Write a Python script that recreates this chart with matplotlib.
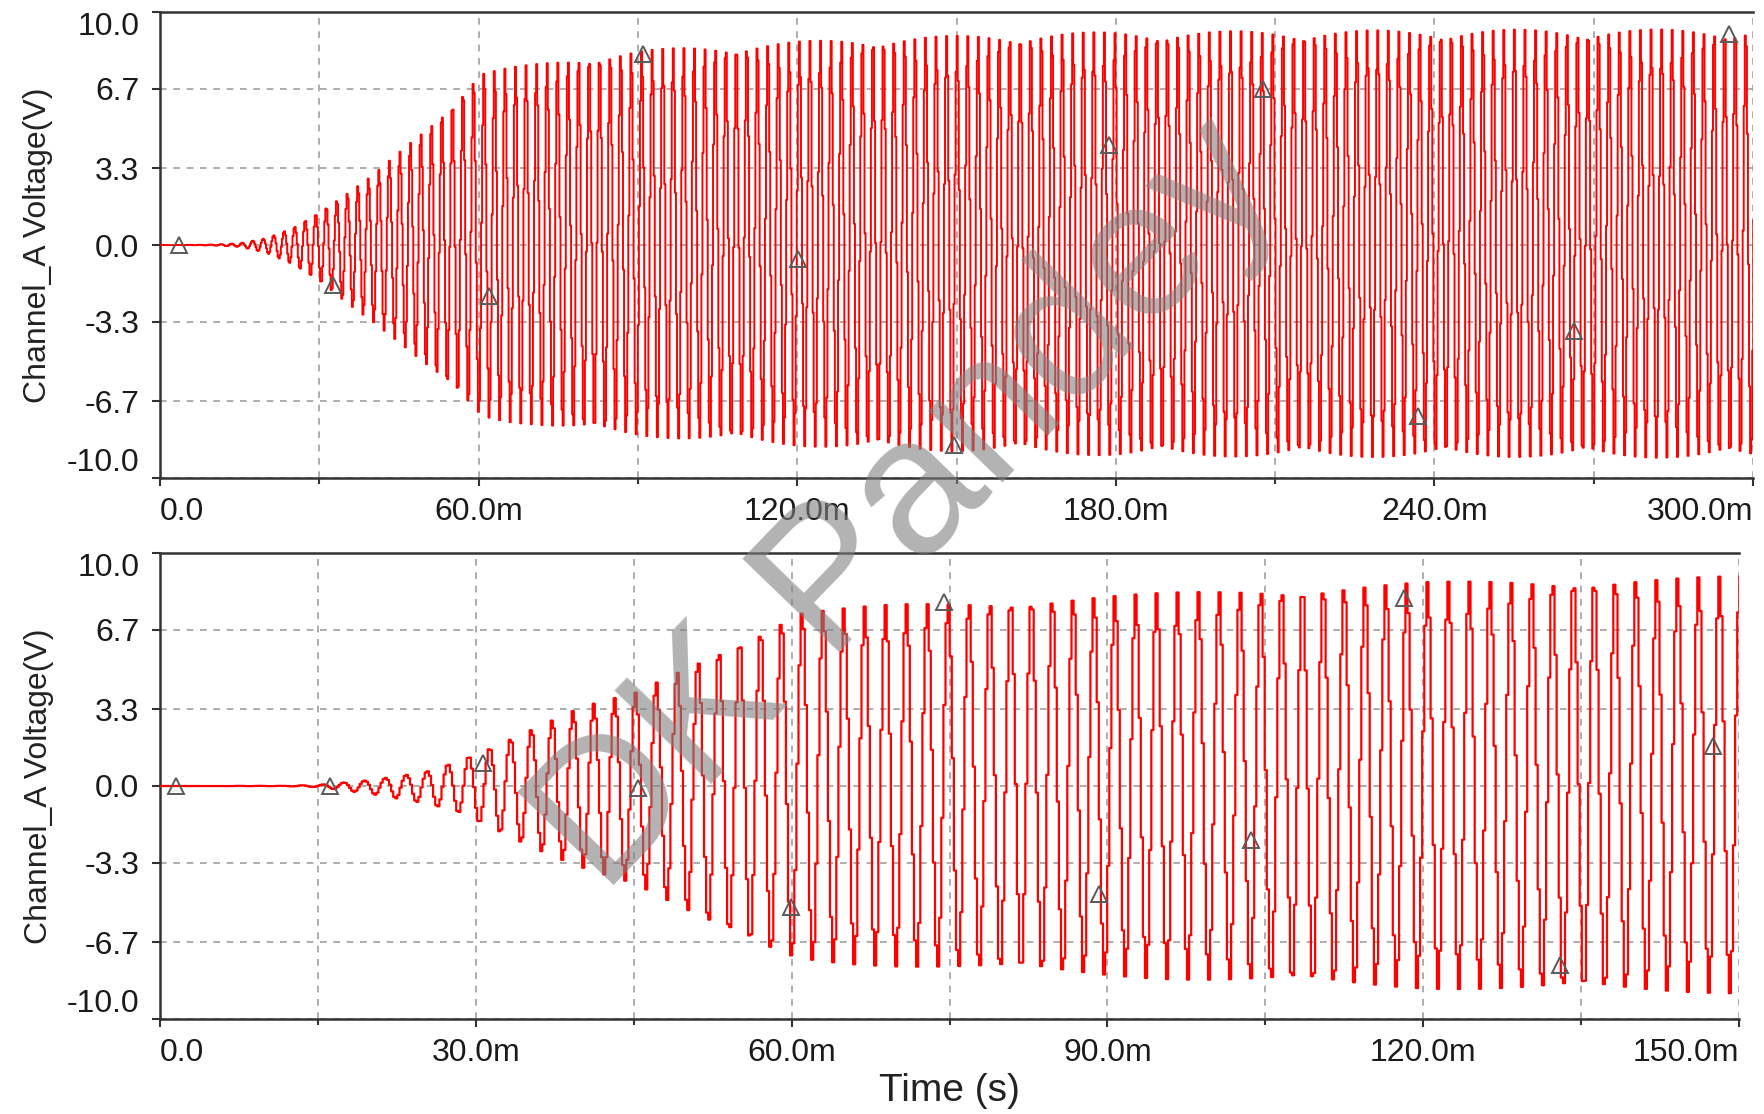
import numpy as np
import matplotlib
matplotlib.use("Agg")
from matplotlib import pyplot as plt

plt.rcParams['font.family'] = ['Liberation Sans', 'DejaVu Sans']

# envelope of the trace (time in ms, volts)
top_env_t = [0, 10, 15, 20, 25, 30, 35, 40, 45, 50, 55, 58, 60.5, 65, 70, 80, 90, 100, 130, 160, 180, 220, 260, 300]
top_env_pos = [0, 0.02, 0.08, 0.3, 0.75, 1.45, 2.2, 3.0, 4.0, 5.0, 6.1, 6.9, 7.45, 7.6, 7.75, 8.1, 8.35, 8.5, 8.85,
               9.05, 9.15, 9.2, 9.25, 9.25]
top_env_neg = [0, 0.02, 0.08, 0.35, 0.85, 1.6, 2.5, 3.3, 4.2, 5.2, 6.2, 6.9, 7.45, 7.6, 7.7, 8.0, 8.2, 8.35, 8.75,
               8.9, 9.05, 9.1, 9.1, 9.15]

bot_env_t = [0, 12, 15, 20, 25, 28, 31, 34, 37, 40, 45, 52, 58.5, 60.5, 65, 70, 76, 96, 120, 150]
bot_env_pos = [0, 0.01, 0.05, 0.26, 0.6, 1.05, 1.6, 2.2, 2.8, 3.4, 4.0, 5.6, 7.0, 7.5, 7.65, 7.8, 7.9, 8.3, 8.75, 9.0]
bot_env_neg = [0, 0.01, 0.05, 0.35, 0.75, 1.1, 1.75, 2.4, 3.0, 3.5, 4.2, 5.9, 7.25, 7.5, 7.65, 7.75, 7.85, 8.3, 8.7,
               8.9]

osc_freq = 505.0      # Hz, about 2 ms per cycle
osc_peak_ms = 31.2    # one of the crests
top_step_ms = 0.1995  # simulator output step (stair look)
bot_step_ms = 0.1995

# cursor triangles
top_marker_t = [3.5, 32.5, 62.0, 90.9, 120.2, 149.5, 178.7, 207.8, 237.0, 266.2, 295.5]
top_marker_v = [0.0, -1.7, -2.2, 8.2, -0.6, -8.6, 4.3, 6.7, -7.35, -3.7, 9.05]
bot_marker_t = [1.5, 16.1, 30.7, 45.4, 59.9, 74.5, 89.2, 103.6, 118.2, 133.0, 147.5]
bot_marker_v = [0.0, 0.0, 0.97, -0.1, -5.2, 7.9, -4.65, -2.3, 8.05, -7.7, 1.7]

top_xticks = [0, 60, 120, 180, 240, 300]
top_xminor = [30, 90, 150, 210, 270]
bot_xticks = [0, 30, 60, 90, 120, 150]
bot_xminor = [15, 45, 75, 105, 135]
y_ticks = [-10.0, -6.7, -3.3, 0.0, 3.3, 6.7, 10.0]


def trace(end_ms, step, env_t, env_pos, env_neg):
    t = np.arange(0, end_ms + step, step)
    s = np.cos(2 * np.pi * osc_freq * (t - osc_peak_ms) / 1000.0)
    amp = np.where(s >= 0, np.interp(t, env_t, env_pos), np.interp(t, env_t, env_neg))
    return t, amp * s


def ms_label(v):
    return "0.0" if v == 0 else "%.1fm" % v


fig = plt.figure(figsize=(17.65, 11.14), dpi=100)
ax1 = fig.add_axes([0.0907, 0.5709, 0.9025, 0.4183])
ax2 = fig.add_axes([0.0907, 0.0853, 0.8946, 0.4183])

panels = [
    (ax1, 300, top_step_ms, 1.4, top_env_t, top_env_pos, top_env_neg, top_marker_t, top_marker_v,
     top_xticks, top_xminor),
    (ax2, 150, bot_step_ms, 1.6, bot_env_t, bot_env_pos, bot_env_neg, bot_marker_t, bot_marker_v,
     bot_xticks, bot_xminor),
]

for ax, end, step, lw, et, ep, en, mt, mv, xt, xm in panels:
    t, v = trace(end, step, et, ep, en)
    ax.plot(t, v, color='#ff0000', lw=lw, drawstyle='steps-post', zorder=3)
    ax.plot(mt, mv, ls='none', marker='^', ms=11, mfc='none', mec='#5a5a5a', mew=1.4, zorder=4)

    ax.set_xlim(0, end)
    ax.set_ylim(-10, 10)
    ax.set_xticks(xt)
    ax.set_xticks(xm, minor=True)
    ax.set_xticklabels([ms_label(x) for x in xt])
    ax.set_yticks(y_ticks)
    ax.set_yticklabels(["%.1f" % y for y in y_ticks])

    ax.grid(True, which='both', color='#a0a0a0', ls=(0, (4, 4)), lw=1.2)
    ax.set_axisbelow(True)
    for side in ['top', 'left', 'bottom']:
        ax.spines[side].set_linewidth(1.8)
        ax.spines[side].set_color('#333333')
    ax.spines['right'].set_visible(False)

    ax.tick_params(axis='both', which='major', labelsize=23, labelcolor='#1a1a1a', color='#333333',
                   length=6, width=1.5)
    ax.tick_params(axis='x', which='major', pad=8)
    ax.tick_params(axis='y', which='major', pad=9)
    ax.tick_params(axis='x', which='minor', length=4, width=1.5, color='#333333')

    xl = ax.get_xticklabels()
    xl[0].set_ha('left')
    xl[-1].set_ha('right')
    yl = ax.get_yticklabels()
    yl[0].set_va('bottom')
    yl[-1].set_va('top')

    ax.set_ylabel("Channel_A Voltage(V)", fontsize=23, color='#222222')
    ax.yaxis.set_label_coords(-0.067, 0.5)

ax2.set_xlabel("Time (s)", fontsize=28, color='#222222')
ax2.xaxis.set_label_coords(0.5, -0.115)

# watermark
fig.text(0.515, 0.545, "DK Pandey", rotation=46, fontsize=140, color='#808080', alpha=0.6,
         ha='center', va='center')

fig.savefig("out.png", dpi=100)
